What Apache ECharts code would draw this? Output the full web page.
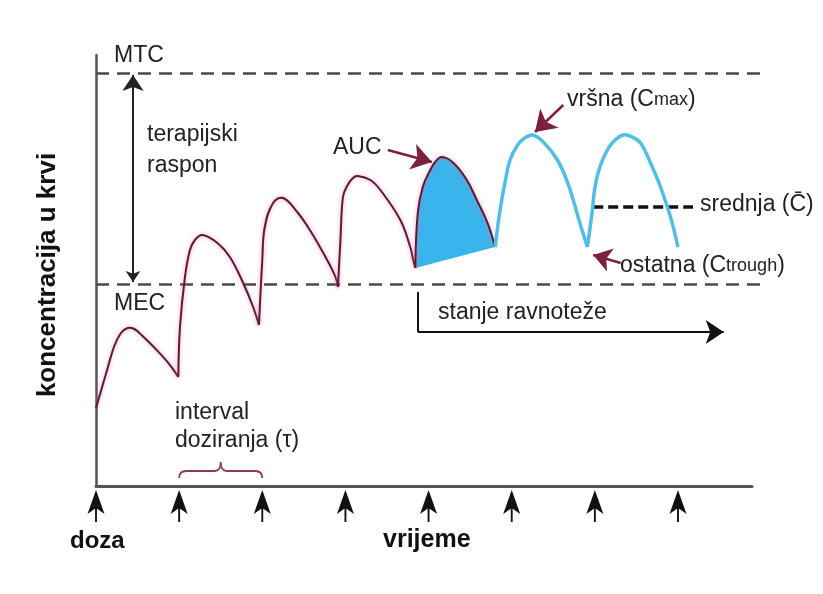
<!DOCTYPE html>
<html>
<head>
<meta charset="utf-8">
<script src="https://cdn.jsdelivr.net/npm/echarts@6/dist/echarts.min.js"></script>
<style>
  html, body { margin: 0; padding: 0; background: #fff; }
  #chart { width: 823px; height: 594px; }
</style>
</head>
<body>
<div id="chart"></div>
<script>
  /******************/
  //region    //data

  // x = vrijeme u intervalima doziranja (tau), y = koncentracija (proizvoljne jedinice)
  let doze = [0, 1, 2, 3, 4, 5, 6, 7];
  let MTC = 413;
  let MEC = 202;
  let srednja = [[5.98, 279], [7.18, 279]];

  let doza1 = [[0, 78], [0.13, 115], [0.22, 140], [0.30, 153], [0.38, 158], [0.46, 157], [0.56, 150], [0.73, 136], [0.89, 121], [0.99, 109]];
  let doza2 = [[0.99, 109], [1.01, 159], [1.07, 209], [1.13, 236], [1.19, 246], [1.28, 251], [1.46, 243], [1.61, 229], [1.77, 203], [1.89, 179], [1.96, 161]];
  let doza3 = [[1.96, 161], [2.0, 226], [2.03, 259], [2.13, 283], [2.25, 288], [2.42, 274], [2.58, 255], [2.78, 226], [2.88, 209], [2.91, 199]];
  let doza4 = [[2.91, 199], [2.94, 246], [2.97, 289], [3.02, 300], [3.09, 308], [3.15, 310], [3.30, 306], [3.42, 296], [3.66, 266], [3.78, 239], [3.81, 228], [3.84, 218]];
  let doza5 = [[3.84, 218], [3.87, 273], [3.93, 299], [4.02, 316], [4.08, 324], [4.16, 329], [4.30, 323], [4.46, 306], [4.58, 286], [4.71, 263], [4.80, 239]];
  let ravno1 = [[4.80, 239], [4.86, 276], [4.92, 304], [4.98, 326], [5.07, 341], [5.14, 347], [5.25, 351], [5.38, 344], [5.55, 326], [5.67, 304], [5.74, 286], [5.82, 263], [5.91, 239]];
  let ravno2 = [[5.91, 239], [5.97, 276], [6.00, 298], [6.06, 319], [6.15, 336], [6.22, 344], [6.34, 351], [6.45, 349], [6.55, 343], [6.67, 323], [6.79, 299], [6.91, 269], [7.00, 239]];

  // strelice za oznake
  let rasponStrelica = [[0.445, 204], [0.445, 411]];
  let stanjeCrta = [[3.87, 194], [3.87, 154]];
  let stanjeStrelica = [[3.87, 154], [7.55, 154]];
  let aucStrelica = [[3.51, 336], [4.04, 324]];
  let cmaxStrelica = [[5.62, 381], [5.28, 354]];
  let ctroughStrelica = [[6.31, 223], [5.98, 231]];
  let intervalDoziranja = [[1, 2]];

  //endregion

  /******************/
  //region    //function

  let FONT = '"Liberation Sans", Arial, sans-serif';
  let TAMNA = '#5e1936';
  let PLAVA = '#52bde6';
  let MAROON = '#7d1f40';

  /**
   * glatka krivulja kroz tocke (custom serija, tocke preko osi)
   */
  function krivulja(data, color, width) {
    return {
      type: 'custom',
      data: data,
      z: 5,
      renderItem(params, api) {
        if (params.dataIndex !== 0) return;
        return {
          type: 'polyline',
          shape: {points: data.map(p => api.coord(p)), smooth: 0.4},
          style: {
            stroke: color,
            lineWidth: width,
            fill: null,
            lineJoin: 'round',
            shadowBlur: color === TAMNA ? 4 : 0,
            shadowColor: 'rgba(235,110,160,0.7)',
          },
        };
      },
    }
  }

  function crta(coords, color, width, type, symbol, size, z) {
    return {
      type: 'lines',
      coordinateSystem: 'cartesian2d',
      clip: false,
      symbol: symbol,
      symbolSize: size,
      z: z || 4,
      lineStyle: {color: color, width: width, type: type, opacity: 1, curveness: 0},
      data: [{coords: coords}],
    }
  }

  function tekst(text, x, y, extra) {
    return {
      type: 'text',
      x: x,
      y: y,
      z: 10,
      style: Object.assign({
        text: text,
        font: '23px ' + FONT,
        fill: '#222',
        textVerticalAlign: 'middle',
      }, extra || {}),
    }
  }

  let richC = {rich: {a: {font: '23px ' + FONT, fill: '#222'}, b: {font: '18px ' + FONT, fill: '#222'}}};

  //endregion

  let chart = echarts.init(document.getElementById('chart'));

  let option = {
    animation: false,
    grid: {left: 96, right: 71, top: 55, bottom: 108},
    xAxis: {
      type: 'value', min: 0, max: 7.89,
      axisLine: {show: true, lineStyle: {color: '#555', width: 3}},
      axisTick: {show: false}, axisLabel: {show: false}, splitLine: {show: false},
    },
    yAxis: {
      type: 'value', min: 0, max: 431,
      axisLine: {show: true, lineStyle: {color: '#555', width: 2.5}},
      axisTick: {show: false}, axisLabel: {show: false}, splitLine: {show: false},
    },
    series: [
      // MTC i MEC
      crta([[0, MTC], [8.05, MTC]], '#4a4a4a', 2.5, [13, 8], 'none', 0, 2),
      crta([[0, MEC], [8.05, MEC]], '#4a4a4a', 2.5, [13, 8], 'none', 0, 2),
      // AUC povrsina
      {
        type: 'custom',
        data: doza5,
        z: 3,
        renderItem(params, api) {
          if (params.dataIndex !== 0) return;
          return {
            type: 'polygon',
            shape: {points: doza5.map(p => api.coord(p))},
            style: {fill: '#3ab4ec'},
          };
        },
      },
      krivulja(doza1, TAMNA, 2),
      krivulja(doza2, TAMNA, 2),
      krivulja(doza3, TAMNA, 2),
      krivulja(doza4, TAMNA, 2),
      krivulja(doza5, TAMNA, 2),
      krivulja(ravno1, PLAVA, 3.5),
      krivulja(ravno2, PLAVA, 3.5),
      crta(srednja, '#111', 3.5, [10, 5], 'none', 0, 4),
      crta(rasponStrelica, '#222', 2, 'solid', ['arrow', 'arrow'], [11, 16], 4),
      crta(stanjeCrta, '#111', 2, 'solid', 'none', 0, 4),
      crta(stanjeStrelica, '#111', 2, 'solid', ['none', 'arrow'], [12, 18], 4),
      crta(aucStrelica, MAROON, 2.5, 'solid', ['none', 'arrow'], [15, 20], 6),
      crta(cmaxStrelica, MAROON, 2.5, 'solid', ['none', 'arrow'], [15, 20], 6),
      crta(ctroughStrelica, MAROON, 2.5, 'solid', ['none', 'arrow'], [13, 18], 6),
      // interval doziranja - zagrada
      {
        type: 'custom',
        data: intervalDoziranja,
        z: 4,
        renderItem(params, api) {
          let a = api.coord([api.value(0), 0]);
          let b = api.coord([api.value(1), 0]);
          let w = b[0] - a[0];
          let m = w / 2;
          let path = 'M0,16 Q0,9 7,9 L' + (m - 6) + ',9 Q' + m + ',9 ' + m + ',0 Q' + m + ',9 ' + (m + 6) + ',9 L'
            + (w - 7) + ',9 Q' + w + ',9 ' + w + ',16';
          return {
            type: 'path',
            shape: {pathData: path, x: a[0], y: a[1] - 24, width: w, height: 16, layout: 'cover'},
            style: {stroke: '#8b3a5a', lineWidth: 1.8, fill: null},
          };
        },
      },
      // doze
      {
        type: 'scatter',
        data: doze.map(d => [d, -20]),
        clip: false,
        symbol: 'path://M9,0 L18,24 L9,18 L0,24 Z M8,18 L10,18 L10,32 L8,32 Z',
        symbolSize: [17, 32],
        itemStyle: {color: '#111', opacity: 1},
        z: 4,
      },
    ],
    graphic: [
      tekst('MTC', 114, 56),
      tekst('terapijski', 147, 135),
      tekst('raspon', 147, 166),
      tekst('MEC', 114, 304),
      tekst('AUC', 333, 148),
      tekst('{a|vršna (C}{b|max}{a|)}', 567, 100, richC),
      tekst('srednja (C\u0304)', 700, 205),
      tekst('{a|ostatna (C}{b|trough}{a|)}', 620, 266, richC),
      tekst('stanje ravnoteže', 438, 313),
      tekst('interval', 175, 413),
      tekst('doziranja (τ)', 175, 441),
      tekst('doza', 70, 541, {font: 'bold 24px ' + FONT, fill: '#111'}),
      tekst('vrijeme', 383, 540, {font: 'bold 25px ' + FONT, fill: '#111'}),
      {
        type: 'text', x: 48, y: 275, rotation: Math.PI / 2, z: 10,
        style: {
          text: 'koncentracija u krvi', font: 'bold 26px ' + FONT, fill: '#111',
          textAlign: 'center', textVerticalAlign: 'middle',
        },
      },
    ],
  };

  chart.setOption(option);
</script>
</body>
</html>
